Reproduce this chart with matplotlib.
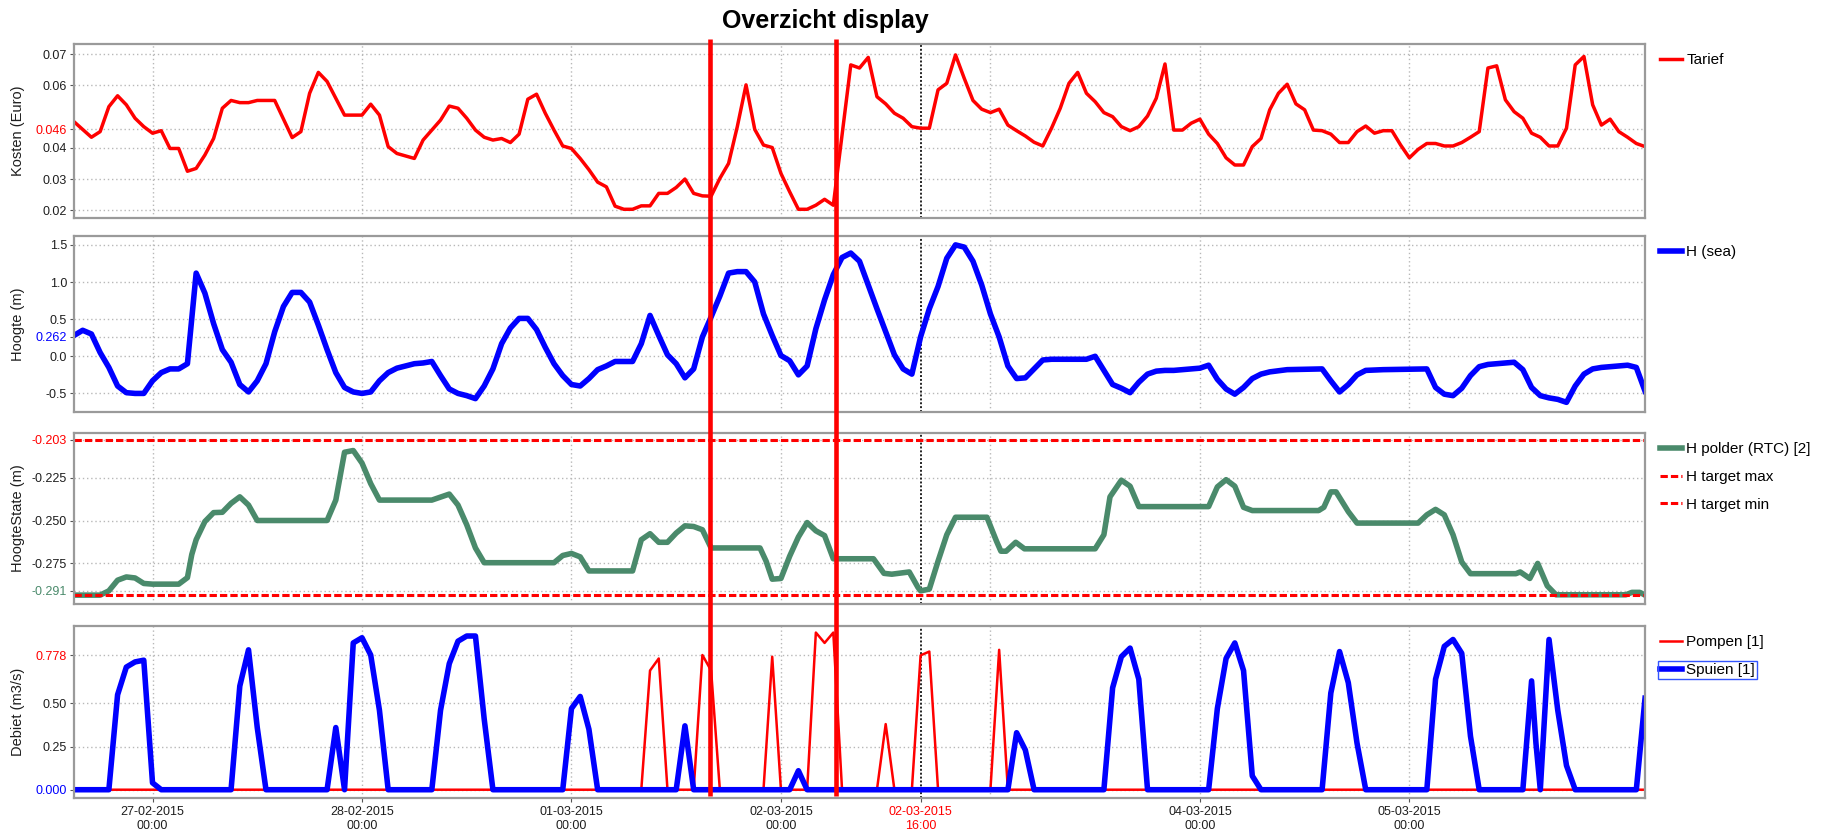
import pandas as pd
import matplotlib.pyplot as plt
import matplotlib.dates as mdates
import matplotlib.transforms as mtransforms
from matplotlib.lines import Line2D
from matplotlib.patches import Rectangle
from matplotlib.transforms import Bbox

plt.rcParams['font.family'] = ['Liberation Sans', 'DejaVu Sans']

# uren t.o.v. 27-02-2015 00:00
tarief_t = [-9, -7, -6, -5, -4, -3, -2, -1, 0, 1, 2, 3, 4, 5, 6, 7, 8, 9, 10, 11, 12, 14, 16, 17, 18, 19, 20,
            21, 22, 24, 25, 26, 27, 28, 30, 31, 32, 33, 34, 35, 36, 37, 38, 39, 40, 41, 42, 43, 44, 45, 46, 47,
            48, 49, 50, 51, 52, 53, 54, 55, 56, 57, 58, 59, 60, 61, 62, 63, 64, 65, 66, 67, 68, 69, 70, 71, 72,
            73, 74, 75, 76, 77, 78, 79, 80, 81, 82, 83, 84, 85, 86, 87, 88, 89, 90, 91, 92, 93, 94, 95, 96, 97,
            98, 99, 100, 101, 102, 103, 104, 105, 106, 107, 108, 109, 110, 111, 112, 113, 114, 115, 116, 117,
            118, 119, 120, 121, 122, 123, 124, 125, 126, 127, 128, 129, 130, 131, 132, 133, 134, 135, 136, 137,
            138, 139, 140, 141, 142, 143, 144, 145, 146, 147, 148, 149, 150, 151, 152, 153, 154, 155, 156, 157,
            158, 159, 160, 161, 162, 163, 164, 165, 166, 167, 168, 169, 170, 171]
tarief_v = [.0484, .0434, .0452, .0532, .0567, .0538, .0495, .0468, .0447, .0455, .0398, .0398, .0325, .0334,
            .0377, .0430, .0527, .0552, .0545, .0545, .0552, .0552, .0433, .0452, .0575, .0642, .0613, .0559,
            .0505, .0505, .0540, .0505, .0404, .0382, .0366, .0425, .0457, .0489, .0534, .0527, .0495, .0457,
            .0434, .0425, .0430, .0417, .0444, .0556, .0572, .0511, .0457, .0406, .0398, .0366, .0330, .0290,
            .0275, .0213, .0203, .0203, .0214, .0214, .0254, .0254, .0273, .0300, .0254, .0246, .0245, .0302,
            .0350, .0468, .0602, .0459, .0409, .0401, .0318, .0259, .0203, .0203, .0216, .0235, .0216, .0440,
            .0666, .0656, .0690, .0564, .0541, .0511, .0495, .0468, .0463, .0463, .0586, .0607, .0698, .0623,
            .0552, .0524, .0513, .0524, .0473, .0455, .0438, .0418, .0406, .0463, .0527, .0607, .0642, .0575,
            .0548, .0513, .0500, .0468, .0455, .0468, .0502, .0559, .0669, .0457, .0457, .0479, .0492, .0444,
            .0414, .0368, .0345, .0345, .0404, .0430, .0522, .0575, .0604, .0541, .0522, .0457, .0455, .0444,
            .0417, .0417, .0452, .0470, .0447, .0455, .0455, .0409, .0368, .0395, .0414, .0414, .0406, .0406,
            .0417, .0434, .0452, .0656, .0663, .0554, .0516, .0495, .0447, .0434, .0406, .0406, .0463, .0666,
            .0693, .0538, .0473, .0492, .0452, .0434, .0414, .0404]

zee_t = [-9, -8, -7, -6, -5, -4, -3, -2, -1, 0, 1, 2, 3, 4, 5, 6, 7, 8, 9, 10, 11, 12, 13, 14, 15, 16, 17, 18,
         19, 20, 21, 22, 23, 24, 25, 26, 27, 28, 29, 30, 31, 32, 33, 34, 35, 36, 37, 38, 39, 40, 41, 42, 43,
         44, 45, 46, 47, 48, 49, 50, 51, 52, 53, 54, 55, 56, 57, 58, 59, 60, 61, 62, 63, 64, 65, 66, 67, 68,
         69, 70, 71, 72, 73, 74, 75, 76, 77, 78, 79, 80, 81, 82, 83, 84, 85, 86, 87, 88, 89, 90, 91, 92, 93,
         94, 95, 96, 97, 98, 99, 100, 101, 102, 103, 104, 105, 106, 107, 108, 109, 110, 111, 112, 113, 114,
         115, 116, 117, 118, 119, 120, 121, 122, 123, 124, 125, 126, 127, 128, 130, 134, 135, 136, 137, 138,
         139, 141, 146, 147, 148, 149, 150, 151, 152, 153, 155, 156, 157, 158, 159, 160, 161, 162, 163, 164,
         165, 166, 167, 168, 169, 170, 171]
zee_v = [0.28, 0.35, 0.30, 0.05, -0.15, -0.40, -0.49, -0.50, -0.50, -0.33, -0.22, -0.17, -0.17, -0.10, 1.12,
         0.85, 0.44, 0.09, -0.08, -0.38, -0.48, -0.33, -0.10, 0.33, 0.67, 0.86, 0.86, 0.73, 0.42, 0.09, -0.22,
         -0.42, -0.48, -0.50, -0.48, -0.33, -0.22, -0.16, -0.13, -0.10, -0.09, -0.07, -0.26, -0.44, -0.50,
         -0.53, -0.57, -0.40, -0.17, 0.17, 0.38, 0.51, 0.51, 0.36, 0.12, -0.10, -0.26, -0.38, -0.40, -0.30,
         -0.18, -0.13, -0.07, -0.07, -0.07, 0.17, 0.55, 0.28, 0.02, -0.10, -0.29, -0.17, 0.26, 0.53, 0.81,
         1.12, 1.14, 1.14, 1.00, 0.57, 0.28, 0.01, -0.06, -0.25, -0.13, 0.37, 0.76, 1.10, 1.33, 1.39, 1.28,
         0.96, 0.64, 0.33, 0.02, -0.17, -0.24, 0.262, 0.64, 0.94, 1.32, 1.50, 1.47, 1.28, 0.96, 0.57, 0.26,
         -0.13, -0.30, -0.29, -0.17, -0.05, -0.04, -0.04, -0.04, -0.04, -0.04, 0.00, -0.19, -0.38, -0.43,
         -0.49, -0.35, -0.24, -0.20, -0.19, -0.19, -0.18, -0.17, -0.16, -0.12, -0.31, -0.44, -0.51, -0.42,
         -0.30, -0.24, -0.21, -0.18, -0.17, -0.33, -0.48, -0.38, -0.25, -0.19, -0.18, -0.17, -0.42, -0.51,
         -0.53, -0.43, -0.26, -0.14, -0.11, -0.09, -0.08, -0.18, -0.42, -0.53, -0.56, -0.58, -0.62, -0.40,
         -0.24, -0.17, -0.15, -0.14, -0.13, -0.12, -0.15, -0.47]

polder_t = [-9, -6, -5, -4, -3, -2, -1, 0, 3, 4, 4.5, 5, 6, 7, 8, 9, 10, 11, 12, 20, 21, 22, 23, 24, 25, 26,
            32, 34, 35, 36, 37, 38, 46, 47, 48, 49, 50, 55, 56, 57, 58, 59, 60, 61, 62, 63, 64, 69.6, 70.3,
            71, 72, 73, 74, 75, 76, 77, 78, 82.6, 83.8, 84.7, 86.7, 87.7, 88, 89, 90, 91, 92, 95.6, 96.7,
            97.2, 97.8, 98.9, 99.9, 108, 109, 109.7, 111, 112, 113, 121, 122, 123, 124, 125, 126, 133.6,
            134.2, 135, 135.6, 137, 138, 145, 146, 147, 148, 149, 150, 151, 156.2, 156.7, 157.8, 158.7,
            159.8, 160.8, 168.8, 169.5, 170.4, 171]
polder_v = [-0.2935, -0.2935, -0.2910, -0.2848, -0.2829, -0.2835, -0.2867, -0.2871, -0.2871, -0.2833,
            -0.2698, -0.2612, -0.2506, -0.2454, -0.2452, -0.2400, -0.2362, -0.2410, -0.2500, -0.2500,
            -0.2381, -0.2102, -0.2092, -0.2165, -0.2285, -0.2381, -0.2381, -0.2346, -0.2410, -0.2525,
            -0.2660, -0.2746, -0.2746, -0.2704, -0.2692, -0.2712, -0.2794, -0.2794, -0.2612, -0.2577,
            -0.2627, -0.2627, -0.2573, -0.2531, -0.2535, -0.2554, -0.2660, -0.2660, -0.2737, -0.2842,
            -0.2838, -0.2708, -0.2596, -0.2512, -0.2560, -0.2588, -0.2723, -0.2723, -0.2808, -0.2813,
            -0.2800, -0.2890, -0.2910, -0.2900, -0.2737, -0.2583, -0.2481, -0.2481, -0.2621, -0.2679,
            -0.2679, -0.2627, -0.2665, -0.2665, -0.2583, -0.2362, -0.2265, -0.2300, -0.2419, -0.2419,
            -0.2304, -0.2262, -0.2300, -0.2423, -0.2442, -0.2442, -0.2423, -0.2333, -0.2333, -0.2448,
            -0.2515, -0.2515, -0.2467, -0.2435, -0.2467, -0.2583, -0.2742, -0.2810, -0.2810, -0.2800,
            -0.2838, -0.2750, -0.2881, -0.2933, -0.2933, -0.2919, -0.2919, -0.2935]
target_max = -0.203
target_min = -0.2935

pompen_t = [-9, 56, 57, 58, 59, 62, 63, 64, 65, 70, 71, 72, 75, 76, 77, 78, 79, 83, 84, 85, 87, 88, 89, 90,
            96, 97, 98, 171]
pompen_v = [0, 0, 0.69, 0.76, 0, 0, 0.78, 0.69, 0, 0, 0.77, 0, 0, 0.91, 0.85, 0.91, 0, 0, 0.38, 0, 0, 0.778,
            0.80, 0, 0, 0.81, 0, 0]

spuien_t = [-9, -5, -4, -3, -2, -1, 0, 1, 9, 10, 11, 12, 13, 20, 21, 22, 23, 24, 25, 26, 27, 32, 33, 34, 35,
            36, 37, 38, 39, 47, 48, 49, 50, 51, 60, 61, 62, 73, 74, 75, 98, 99, 100, 101, 109, 110, 111, 112,
            113, 114, 121, 122, 123, 124, 125, 126, 127, 134, 135, 136, 137, 138, 139, 146, 147, 148, 149,
            150, 151, 152, 157, 158, 158.5, 159, 160, 161, 162, 163, 170, 171]
spuien_v = [0, 0, 0.55, 0.71, 0.74, 0.75, 0.04, 0, 0, 0.60, 0.81, 0.36, 0, 0, 0.36, 0, 0.85, 0.88, 0.78, 0.46,
            0, 0, 0.46, 0.73, 0.86, 0.89, 0.89, 0.41, 0, 0, 0.47, 0.54, 0.35, 0, 0, 0.37, 0, 0, 0.11, 0, 0,
            0.33, 0.23, 0, 0, 0.59, 0.77, 0.82, 0.64, 0, 0, 0.47, 0.76, 0.85, 0.69, 0.08, 0, 0, 0.56, 0.80,
            0.62, 0.27, 0, 0, 0.64, 0.83, 0.87, 0.79, 0.31, 0, 0, 0.63, 0.27, 0, 0.87, 0.46, 0.14, 0, 0, 0.53]

markeringen = [63.9, 78.3]   # rode verticale lijnen
cursor = 88                  # 02-03-2015 16:00

base = pd.Timestamp('2015-02-27 00:00')


def tijd(uren):
    return mdates.date2num((base + pd.to_timedelta(uren, unit='h')).to_pydatetime())


ROOD = '#ff0000'
BLAUW = '#0000ff'
GROEN = '#4a8a6b'
GRIJS = '#b8b8b8'
TEKST = '#1e1e1e'

fig = plt.figure(figsize=(18.26, 8.35), dpi=100)
L, W = 0.0405, 0.8604
ax1 = fig.add_axes([L, 0.7389, W, 0.2084])
ax2 = fig.add_axes([L, 0.5066, W, 0.2108])
ax3 = fig.add_axes([L, 0.2766, W, 0.2048])
ax4 = fig.add_axes([L, 0.0443, W, 0.2060])


def opmaak(ax, ylim, ticks, labels, kleuren, ylabel):
    ax.set_xlim(tijd(-9), tijd(171))
    ax.set_ylim(*ylim)
    ax.set_yticks(ticks)
    ax.set_yticklabels(labels)
    ax.tick_params(axis='y', labelsize=9, length=3, color='#555555', pad=2)
    for lab, c in zip(ax.get_yticklabels(), kleuren):
        lab.set_color(c)
    for y in ticks:
        ax.axhline(y, color=GRIJS, ls=(0, (1, 2)), lw=1, zorder=0)
    for d in range(7):
        ax.axvline(tijd(24 * d), color=GRIJS, ls=(0, (1, 2)), lw=1, zorder=0)
    ax.axvline(tijd(cursor), color='#222222', ls=(0, (1, 1)), lw=1.4, zorder=1)
    for s in ax.spines.values():
        s.set_color('#9a9a9a')
        s.set_linewidth(1.6)
    ax.set_ylabel(ylabel, fontsize=10.5, color=TEKST)
    ax.yaxis.set_label_coords(-0.031, 0.5)
    ax.set_xticks([])


# 1. Tarief
ax1.plot(tijd(tarief_t), tarief_v, color=ROOD, lw=2.5, label='Tarief')
opmaak(ax1, (0.0175, 0.0733), [0.02, 0.03, 0.04, 0.046, 0.06, 0.07],
       ['0.02', '0.03', '0.04', '0.046', '0.06', '0.07'],
       [TEKST, TEKST, TEKST, ROOD, TEKST, TEKST], 'Kosten (Euro)')

# 2. Zeewaterstand
ax2.plot(tijd(zee_t), zee_v, color=BLAUW, lw=4, label='H (sea)')
opmaak(ax2, (-0.75, 1.62), [-0.5, 0.0, 0.262, 0.5, 1.0, 1.5],
       ['-0.5', '0.0', '0.262', '0.5', '1.0', '1.5'],
       [TEKST, TEKST, BLAUW, TEKST, TEKST, TEKST], 'Hoogte (m)')

# 3. Polderpeil
ax3.plot(tijd(polder_t), polder_v, color=GROEN, lw=4, label='H polder (RTC) [2]')
ax3.axhline(target_max, color=ROOD, lw=2.2, ls=(0, (2.4, 1)), label='H target max')
ax3.axhline(target_min, color=ROOD, lw=2.2, ls=(0, (2.4, 1)), label='H target min')
opmaak(ax3, (-0.2987, -0.199), [-0.291, -0.275, -0.250, -0.225, -0.203],
       ['-0.291', '-0.275', '-0.250', '-0.225', '-0.203'],
       [GROEN, TEKST, TEKST, TEKST, ROOD], 'HoogteState (m)')

# 4. Debiet
ax4.plot(tijd(pompen_t), pompen_v, color=ROOD, lw=1.8, label='Pompen [1]')
ax4.plot(tijd(spuien_t), spuien_v, color=BLAUW, lw=4, label='Spuien [1]')
opmaak(ax4, (-0.048, 0.948), [0.0, 0.25, 0.50, 0.778],
       ['0.000', '0.25', '0.50', '0.778'],
       [BLAUW, TEKST, TEKST, ROOD], 'Debiet (m3/s)')

xt = [0, 24, 48, 72, cursor, 120, 144]
ax4.set_xticks(tijd(xt))
ax4.set_xticklabels(['27-02-2015\n00:00', '28-02-2015\n00:00', '01-03-2015\n00:00', '02-03-2015\n00:00',
                     '02-03-2015\n16:00', '04-03-2015\n00:00', '05-03-2015\n00:00'])
ax4.tick_params(axis='x', labelsize=9, length=3, color='#555555', pad=3)
for lab in ax4.get_xticklabels():
    lab.set_color(TEKST)
ax4.get_xticklabels()[4].set_color(ROOD)

for ax in (ax1, ax2, ax3, ax4):
    ax.legend(loc='upper left', bbox_to_anchor=(1.004, 1.0), frameon=False, fontsize=11,
              handlelength=1.4, handletextpad=0.3, borderaxespad=0.2, labelspacing=0.9)

fig.text(0.452, 0.975, 'Overzicht display', ha='center', va='center', fontsize=18, fontweight='bold')

# rode markeringslijnen over alle panelen
blend = mtransforms.blended_transform_factory(ax4.transData, fig.transFigure)
for m in markeringen:
    fig.add_artist(Line2D([tijd(m), tijd(m)], [0.0467, 0.953], transform=blend, color=ROOD, lw=3.3,
                          solid_capstyle='butt'))

# kader rond 'Spuien [1]'
fig.canvas.draw()
r = fig.canvas.get_renderer()
leg = ax4.get_legend()
bb = Bbox.union([leg.get_texts()[1].get_window_extent(r), leg.legend_handles[1].get_window_extent(r)])
bb = bb.padded(2)
bf = bb.transformed(fig.transFigure.inverted())
fig.add_artist(Rectangle((bf.x0, bf.y0), bf.width, bf.height, transform=fig.transFigure, fill=False,
                         edgecolor='#3355ff', lw=1))

plt.savefig('out.png', dpi=100)
